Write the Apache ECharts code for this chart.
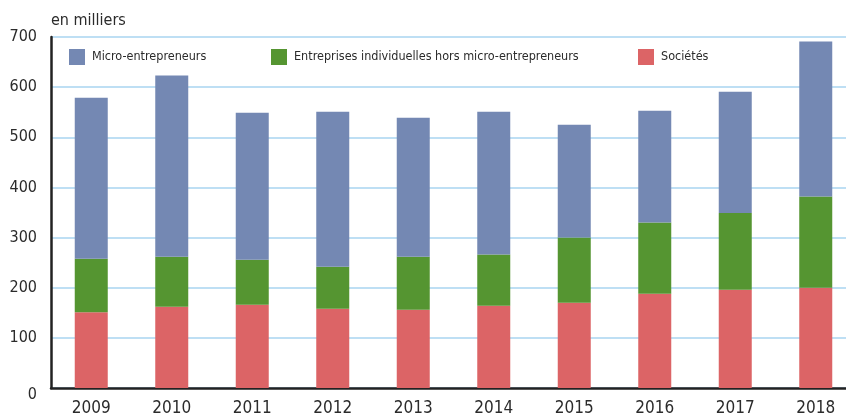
<!DOCTYPE html>
<html>
<head>
<meta charset="utf-8">
<script src="https://cdn.jsdelivr.net/npm/echarts@6/dist/echarts.min.js"></script>
<style>
    html, body { margin: 0; padding: 0; background: #fff; }
    #chart-box { width: 846px; height: 414px; }
</style>
</head>
<body>
<div id="chart-box"></div>
<script>
// données (en milliers)
let years = ["2009", "2010", "2011", "2012", "2013", "2014", "2015", "2016", "2017", "2018"]
let societes = [151, 162, 166, 158, 156, 164, 170, 188, 196, 200]
let entreprisesIndiv = [107, 100, 90, 84, 106, 102, 130, 142, 153, 182]
let microEntrepreneurs = [321, 361, 293, 309, 277, 285, 225, 223, 242, 309]
let yTicks = [0, 100, 200, 300, 400, 500, 600, 700]

let fontFamily = "'Liberation Sans Narrow', 'DejaVu Sans Condensed', sans-serif"
let textColor = "#2b2b2b"

let legendStyle = function (name, left) {
    return {
        data: [name],
        left: left,
        top: 49,
        padding: 0,
        itemWidth: 16,
        itemHeight: 16,
        itemGap: 0,
        icon: "rect",
        textStyle: { fontFamily: fontFamily, fontSize: 12.5, color: textColor, padding: [2, 0, 0, 2] }
    }
}

let chart = echarts.init(document.getElementById("chart-box"))
let option = {
    animation: false,
    title: {
        text: "en milliers",
        left: 51,
        top: 13,
        padding: 0,
        textStyle: { fontFamily: fontFamily, fontSize: 16, fontWeight: "normal", color: textColor }
    },
    legend: [
        legendStyle("Micro-entrepreneurs", 69),
        legendStyle("Entreprises individuelles hors micro-entrepreneurs", 271),
        legendStyle("Sociétés", 638)
    ],
    grid: {
        left: 51,
        right: -10,
        top: 37,
        bottom: 26,
        outerBoundsMode: "none"
    },
    xAxis: {
        type: "category",
        data: years,
        axisTick: { show: false },
        axisLine: { lineStyle: { color: "#222", width: 2.5 } },
        axisLabel: { fontFamily: fontFamily, fontSize: 17, color: textColor, margin: 12 }
    },
    yAxis: {
        type: "value",
        min: yTicks[0],
        max: yTicks[yTicks.length - 1],
        interval: 100,
        axisLine: { show: true, lineStyle: { color: "#222", width: 2.5 } },
        axisTick: { show: false },
        axisLabel: {
            fontFamily: fontFamily,
            fontSize: 16,
            color: textColor,
            margin: 14,
            formatter: function (v) {
                return v === 0 ? "{z|0}" : v
            },
            rich: { z: { fontFamily: fontFamily, fontSize: 16, color: textColor, padding: [14, 0, 0, 0] } }
        },
        splitLine: { lineStyle: { color: "#a9d5f0", width: 1.5 } }
    },
    series: [
        {
            name: "Sociétés",
            type: "bar",
            stack: "total",
            barWidth: 33,
            data: societes,
            itemStyle: { color: "#dc6466" }
        },
        {
            name: "Entreprises individuelles hors micro-entrepreneurs",
            type: "bar",
            stack: "total",
            barWidth: 33,
            data: entreprisesIndiv,
            itemStyle: { color: "#559531" }
        },
        {
            name: "Micro-entrepreneurs",
            type: "bar",
            stack: "total",
            barWidth: 33,
            data: microEntrepreneurs,
            itemStyle: { color: "#7488b3" }
        }
    ]
}
chart.setOption(option)
</script>
</body>
</html>
